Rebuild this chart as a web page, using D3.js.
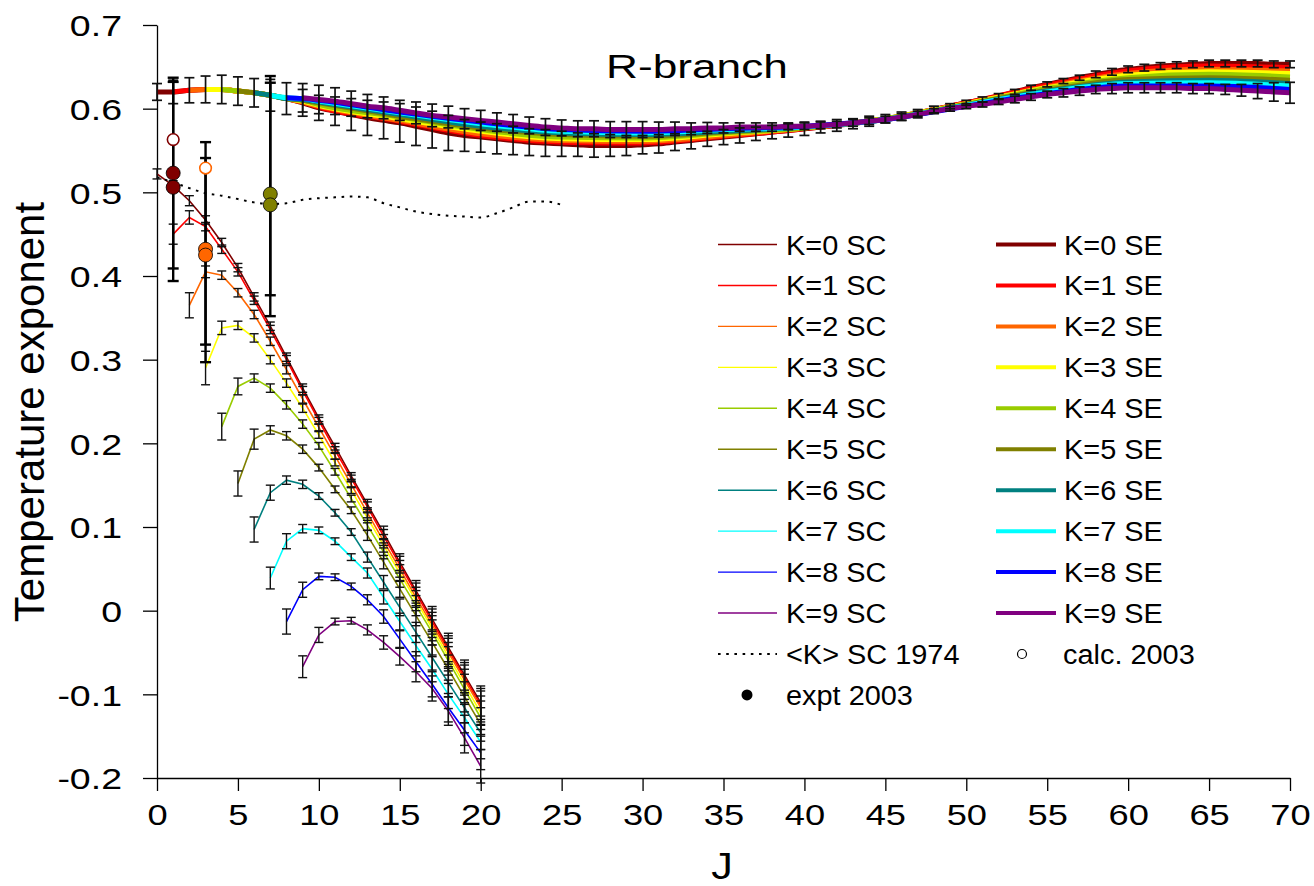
<!DOCTYPE html>
<html><head><meta charset="utf-8">
<script src="https://cdn.jsdelivr.net/npm/d3@7"></script>
<style>body{margin:0;background:#fff} text{font-family:"Liberation Sans",Arial,sans-serif;fill:#000}</style>
</head><body>
<svg id="c" width="1314" height="886"></svg>
<script>
// ---------------- DATA ----------------
const kValues = [0,1,2,3,4,5,6,7,8,9];
const kColors = ["#800000","#ff0000","#ff6600","#ffff00","#99cc00","#808000","#008080","#00ffff","#0000ff","#800080"];
const xTicks = [0,5,10,15,20,25,30,35,40,45,50,55,60,65,70];
const yTicks = [0.7,0.6,0.5,0.4,0.3,0.2,0.1,0,-0.1,-0.2];
const yTickLabels = ["0.7","0.6","0.5","0.4","0.3","0.2","0.1","0","-0.1","-0.2"];

// SE curves: K=0 and K=9 at every J (K=0 from J=0, K=9 from J=9)
const seK0 = [0.620,0.620,0.622,0.623,0.623,0.621,0.619,0.616,0.612,0.607,
  0.601,0.597,0.593,0.589,0.586,0.583,0.579,0.575,0.571,0.568,
  0.566,0.564,0.562,0.560,0.559,0.558,0.557,0.556,0.556,0.556,
  0.557,0.558,0.560,0.562,0.564,0.566,0.568,0.570,0.572,0.574,
  0.576,0.578,0.580,0.582,0.585,0.588,0.591,0.595,0.599,0.603,
  0.607,0.611,0.615,0.620,0.625,0.629,0.633,0.637,0.641,0.644,
  0.647,0.649,0.651,0.652,0.653,0.654,0.654,0.654,0.654,0.653,0.653];
const seK9 = [0.613,0.611,0.609,0.606,0.603,0.601,0.598,0.595,0.592,0.590,0.588,
  0.586,0.584,0.582,0.580,0.578,0.577,0.576,0.576,0.575,0.575,
  0.575,0.575,0.576,0.576,0.577,0.577,0.578,0.578,0.578,0.579,
  0.579,0.580,0.581,0.583,0.585,0.587,0.590,0.593,0.597,0.600,
  0.603,0.605,0.608,0.611,0.614,0.617,0.619,0.621,0.623,0.624,
  0.625,0.625,0.625,0.625,0.624,0.624,0.623,0.622,0.621,0.620,0.619];
// SE curves K=1..8 on a coarser J grid (each starts at J=K)
const seGridJ = [0,1,2,3,4,5,6,7,8,9,10,15,20,25,30,35,40,45,50,55,60,65,70];
const seK1 = [0.620,0.622,0.623,0.623,0.621,0.619,0.616,0.612,0.608,0.602,0.585,0.568,0.560,0.559,0.567,0.576,0.588,0.607,0.628,0.645,0.651,0.649];
const seK2 = [0.622,0.623,0.623,0.621,0.619,0.616,0.612,0.608,0.603,0.586,0.570,0.562,0.561,0.568,0.577,0.588,0.606,0.626,0.642,0.647,0.645];
const seK3 = [0.623,0.623,0.621,0.619,0.616,0.612,0.609,0.604,0.588,0.573,0.564,0.563,0.570,0.577,0.588,0.606,0.625,0.640,0.644,0.642];
const seK4 = [0.623,0.621,0.619,0.616,0.612,0.610,0.605,0.590,0.575,0.566,0.565,0.571,0.577,0.588,0.605,0.624,0.637,0.641,0.638];
const seK5 = [0.621,0.619,0.616,0.612,0.610,0.607,0.591,0.577,0.569,0.567,0.572,0.578,0.587,0.605,0.622,0.635,0.637,0.634];
const seK6 = [0.619,0.616,0.612,0.611,0.608,0.593,0.579,0.571,0.569,0.573,0.578,0.587,0.604,0.621,0.632,0.634,0.630];
const seK7 = [0.616,0.613,0.612,0.609,0.595,0.582,0.573,0.571,0.575,0.578,0.587,0.604,0.620,0.630,0.631,0.627];
const seK8 = [0.613,0.612,0.610,0.596,0.584,0.575,0.573,0.576,0.579,0.587,0.603,0.618,0.627,0.627,0.623];
// SE error half-widths (K=0 from J=0, K=9 from J=9)
const seErrK0 = [0.010,0.014,0.015,0.016,0.017,0.017,0.017,0.019,0.019,0.016,
  0.015,0.017,0.019,0.021,0.022,0.023,0.023,0.022,0.021,0.019,
  0.018,0.018,0.017,0.016,0.016,0.015,0.014,0.014,0.013,0.012,
  0.011,0.011,0.010,0.010,0.009,0.009,0.009,0.008,0.008,0.008,
  0.008,0.007,0.007,0.006,0.006,0.005,0.005,0.004,0.004,0.003,
  0.003,0.003,0.003,0.003,0.003,0.003,0.003,0.003,0.004,0.004,
  0.004,0.004,0.004,0.004,0.004,0.004,0.004,0.004,0.004,0.004,0.004];
const seErrK9 = [0.017,0.017,0.016,0.015,0.014,0.013,0.012,0.013,0.0135,0.013,0.012,
  0.012,0.011,0.011,0.010,0.010,0.0095,0.0095,0.0095,0.0095,0.0095,
  0.0095,0.009,0.008,0.007,0.0065,0.006,0.005,0.005,0.005,0.004,
  0.004,0.004,0.004,0.004,0.004,0.004,0.004,0.004,0.003,0.003,
  0.003,0.003,0.003,0.004,0.004,0.004,0.005,0.005,0.005,0.006,
  0.006,0.006,0.006,0.006,0.006,0.006,0.006,0.007,0.009,0.011,0.0125];

// SC curves, each from J=K to J=20
const scK0 = [0.522,0.508,0.490,0.467,0.440,0.410,0.375,0.340,0.303,0.266,0.230,0.196,0.161,0.127,0.093,0.058,0.024,-0.010,-0.044,-0.077,-0.110];
const scK1 = [0.450,0.470,0.459,0.432,0.405,0.371,0.336,0.300,0.263,0.227,0.192,0.158,0.124,0.089,0.055,0.021,-0.013,-0.047,-0.080,-0.113];
const scK2 = [0.365,0.405,0.401,0.380,0.354,0.322,0.288,0.253,0.219,0.185,0.151,0.117,0.083,0.050,0.016,-0.017,-0.050,-0.083,-0.116];
const scK3 = [0.290,0.338,0.341,0.326,0.300,0.272,0.242,0.210,0.177,0.144,0.111,0.078,0.045,0.012,-0.021,-0.055,-0.088,-0.122];
const scK4 = [0.220,0.268,0.278,0.266,0.246,0.223,0.197,0.166,0.134,0.102,0.070,0.038,0.006,-0.026,-0.060,-0.094,-0.128];
const scK5 = [0.152,0.205,0.216,0.209,0.193,0.171,0.145,0.120,0.090,0.058,0.026,-0.006,-0.038,-0.070,-0.103,-0.136];
const scK6 = [0.097,0.141,0.156,0.151,0.137,0.117,0.094,0.064,0.034,0.004,-0.026,-0.056,-0.086,-0.116,-0.146];
const scK7 = [0.039,0.083,0.098,0.096,0.083,0.064,0.045,0.016,-0.013,-0.042,-0.070,-0.100,-0.128,-0.157];
const scK8 = [-0.013,0.025,0.041,0.040,0.029,0.013,-0.007,-0.034,-0.061,-0.088,-0.116,-0.143,-0.170];
const scK9 = [-0.067,-0.029,-0.013,-0.012,-0.023,-0.038,-0.055,-0.073,-0.093,-0.120,-0.152,-0.186];
// SC error half-widths: by J, at the first point (J=K) and the second point (J=K+1)
const scErrByJ = [0.006,0.006,0.006,0.005,0.005,0.005,0.005,0.005,0.005,0.005,0.004,0.004,0.004,0.006,0.008,0.010,0.012,0.015,0.017,0.018,0.020];
const scErrFirst = [0.006,0.012,0.015,0.020,0.016,0.015,0.015,0.013,0.015,0.013];
const scErrSecond = [0.006,0.008,0.007,0.008,0.010,0.012,0.009,0.009,0.009,0.009];

// <K> SC 1974
const sc1974J = [0,1,2,3,4,5,6,7,8,9,10,11,12,13,14,15,16,17,18,19,20,21,22,23,24,25];
const sc1974 = [0.518,0.512,0.505,0.499,0.496,0.492,0.488,0.486,0.487,0.491,0.493,0.494,0.495,0.494,0.487,0.482,0.477,0.474,0.472,0.471,0.470,0.475,0.482,0.489,0.489,0.485];

// 2003 points
const exptJ = [1,1,3,3,7,7];
const exptK = [0,0,2,2,5,5];
const exptVal = [0.523,0.506,0.432,0.425,0.498,0.485];
const exptLo = [0.409,0.394,0.297,0.318,0.352,0.377];
const exptHi = [0.637,0.632,0.560,0.541,0.639,0.631];
const calcJ = [1,3];
const calcK = [0,2];
const calcVal = [0.563,0.529];

// ---------------- CHART ----------------
const svg = d3.select("#c");
const x = d3.scaleLinear().domain([0,70]).range([157,1290]);
const y = d3.scaleLinear().domain([-0.2,0.7]).range([778,25]);

function stretch(sel, f){
  sel.each(function(){
    const w = this.getComputedTextLength();
    this.setAttribute("textLength", w*f);
    this.setAttribute("lengthAdjust","spacingAndGlyphs");
  });
}

// axes
const gy = svg.append("g").attr("transform","translate(157,0)")
  .call(d3.axisLeft(y).tickValues(yTicks).tickSize(14).tickSizeOuter(0).tickPadding(21)
  .tickFormat((d,i)=>yTickLabels[i]));
gy.selectAll("text").style("font-size","30px").attr("dy","0.36em");
gy.selectAll("line,path").attr("stroke","#000").attr("stroke-width",1.3);
stretch(gy.selectAll("text"),1.25);

const gx = svg.append("g").attr("transform","translate(0,778)")
  .call(d3.axisBottom(x).tickValues(xTicks).tickSize(13).tickSizeOuter(0).tickPadding(34)
  .tickFormat(d=>String(d)));
gx.selectAll("text").style("font-size","29px").attr("dy","0em");
gx.selectAll("line,path").attr("stroke","#000").attr("stroke-width",1.3);
stretch(gx.selectAll("text"),1.25);

// SE lines
const seMid = [null,seK1,seK2,seK3,seK4,seK5,seK6,seK7,seK8,null];
const seSeries = kValues.map(k=>{
  if(k===0) return seK0.map((v,i)=>[i,v]);
  if(k===9) return seK9.map((v,i)=>[i+9,v]);
  const js = seGridJ.filter(j=>j>=k);
  return seMid[k].map((v,i)=>[js[i],v]);
});
const seLine = d3.line().x(d=>x(d[0])).y(d=>y(d[1])).curve(d3.curveMonotoneX);
const gSE = svg.append("g");
seSeries.forEach((s,k)=>{
  gSE.append("path").attr("d",seLine(s)).attr("fill","none")
    .attr("stroke",kColors[k]).attr("stroke-width",5).attr("stroke-linejoin","round");
});

// SC lines
const scAll = [scK0,scK1,scK2,scK3,scK4,scK5,scK6,scK7,scK8,scK9];
const scLine = d3.line().x(d=>x(d[0])).y(d=>y(d[1]));
const gSC = svg.append("g");
scAll.forEach((arr,k)=>{
  gSC.append("path").attr("d",scLine(arr.map((v,i)=>[i+k,v]))).attr("fill","none")
    .attr("stroke",kColors[k]).attr("stroke-width",1.6);
});

// dotted 1974
svg.append("path").attr("d",d3.line().x(d=>x(d[0])).y(d=>y(d[1])).curve(d3.curveMonotoneX)(sc1974J.map((j,i)=>[j,sc1974[i]])))
  .attr("fill","none").attr("stroke","#000").attr("stroke-width",2).attr("stroke-dasharray","2.6 5.6");

// error bars
function bars(g, data, cap, sw, col){
  data.forEach(d=>{
    const cx = x(d.j), y1 = y(d.lo), y2 = y(d.hi);
    g.append("line").attr("x1",cx).attr("x2",cx).attr("y1",y1).attr("y2",y2).attr("stroke",col).attr("stroke-width",sw);
    [y1,y2].forEach(yy=>g.append("line").attr("x1",cx-cap/2).attr("x2",cx+cap/2).attr("y1",yy).attr("y2",yy).attr("stroke",col).attr("stroke-width",sw));
  });
}
const gBars = svg.append("g");
// SC bars
scAll.forEach((arr,k)=>{
  const data = arr.map((v,i)=>{
    const j=i+k;
    let e = scErrByJ[j];
    if(i===0) e = Math.max(e, scErrFirst[k]);
    if(i===1) e = Math.max(e, scErrSecond[k]);
    return {j, lo:v-e, hi:v+e};
  });
  bars(gBars, data, 9, 1.4, "#111");
});
// SE bars
bars(gBars, seK0.map((v,i)=>({j:i, lo:v-seErrK0[i], hi:v+seErrK0[i]})), 10, 1.7, "#111");
bars(gBars, seK9.map((v,i)=>({j:i+9, lo:v-seErrK9[i], hi:v+seErrK9[i]})), 10, 1.7, "#111");
// expt bars
bars(gBars, exptJ.map((j,i)=>({j, lo:exptLo[i], hi:exptHi[i]})), 11, 2.4, "#000");

// markers
svg.append("g").selectAll("circle").data(exptJ).join("circle")
  .attr("cx",d=>x(d)).attr("cy",(d,i)=>y(exptVal[i])).attr("r",7)
  .attr("fill",(d,i)=>kColors[exptK[i]]).attr("stroke","#000").attr("stroke-width",0.8);
svg.append("g").selectAll("circle").data(calcJ).join("circle")
  .attr("cx",d=>x(d)).attr("cy",(d,i)=>y(calcVal[i])).attr("r",5.8)
  .attr("fill","#fff").attr("stroke",(d,i)=>kColors[calcK[i]]).attr("stroke-width",1.6);

// titles
const title = svg.append("text").attr("x",697).attr("y",78).attr("text-anchor","middle").style("font-size","34px").text("R-branch");
stretch(title,1.3);
const xt = svg.append("text").attr("x",722).attr("y",879).attr("text-anchor","middle").style("font-size","36px").text("J");
stretch(xt,1.2);
const yt = svg.append("text").attr("transform","translate(44,412) rotate(-90)").attr("text-anchor","middle").style("font-size","42px").text("Temperature exponent");

// legend
const leg = svg.append("g");
const rowY = i => 244.5 + 40.95*i;
kValues.forEach((k,i)=>{
  const cy = rowY(i);
  leg.append("line").attr("x1",718).attr("x2",777).attr("y1",cy).attr("y2",cy).attr("stroke",kColors[k]).attr("stroke-width",1.4);
  leg.append("text").attr("x",786).attr("y",cy+10).style("font-size","27px").text(`K=${k} SC`);
  leg.append("line").attr("x1",996).attr("x2",1056).attr("y1",cy).attr("y2",cy).attr("stroke",kColors[k]).attr("stroke-width",4);
  leg.append("text").attr("x",1064).attr("y",cy+10).style("font-size","27px").text(`K=${k} SE`);
});
leg.append("line").attr("x1",718).attr("x2",777).attr("y1",rowY(10)).attr("y2",rowY(10)).attr("stroke","#000").attr("stroke-width",2).attr("stroke-dasharray","2.6 5.6");
leg.append("text").attr("x",786).attr("y",rowY(10)+10).style("font-size","27px").text("<K> SC 1974");
leg.append("circle").attr("cx",1022).attr("cy",rowY(10)).attr("r",4.5).attr("fill","#fff").attr("stroke","#000").attr("stroke-width",1.2);
leg.append("text").attr("x",1063).attr("y",rowY(10)+10).style("font-size","27px").text("calc. 2003");
leg.append("circle").attr("cx",747).attr("cy",rowY(11)).attr("r",5.5).attr("fill","#000");
leg.append("text").attr("x",786).attr("y",rowY(11)+10).style("font-size","27px").text("expt 2003");
stretch(leg.selectAll("text"),1.07);
</script>
</body></html>
